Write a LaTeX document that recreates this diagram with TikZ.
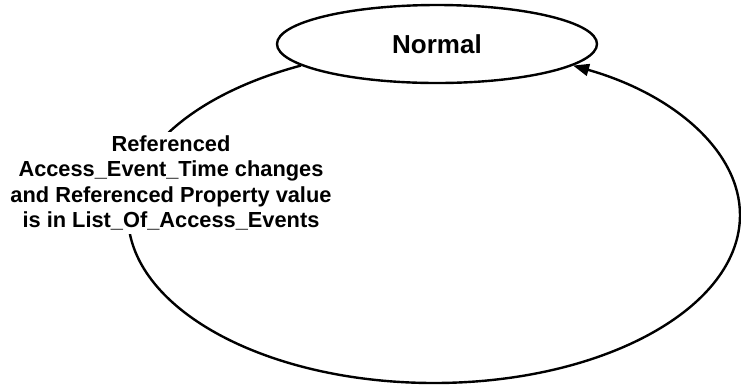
\documentclass[tikz,border=0pt]{standalone}
\usepackage{fontspec}
\setmainfont{Liberation Sans}
\usetikzlibrary{arrows.meta, shapes.geometric, backgrounds, positioning}

\begin{document}
\begin{tikzpicture}[->,>={Triangle[length=8pt,width=6pt]},x=0.5pt,y=-0.5pt,line width=1.2pt]
    \tikzstyle{stateell}=[shape=ellipse, fill=white, draw=black, text=black, minimum width=160pt, minimum height=39pt, inner sep=0pt, font=\bfseries\fontsize{13}{15}\selectfont]
    \tikzstyle{cond}=[shape=rectangle, fill=white, draw=none, text=black, align=center, inner sep=2pt, font=\bfseries\fontsize{10.9}{12.75}\selectfont]
    \tikzstyle{loopline}=[draw=black, line width=1.2pt]

    \useasboundingbox (0,0) rectangle (741,387);

    \node[stateell]  (normal) at (437,44) {Normal};
    \node[cond]      (trig) at (171,183) {Referenced\\Access\_Event\_Time changes\\and Referenced Property value\\is in List\_Of\_Access\_Events};

    \coordinate (loopleft)   at (128,215);
    \coordinate (loopbottom) at (434,383);
    \coordinate (loopright)  at (740,215);

    \begin{scope}[on background layer]
    \draw[loopline] (normal.189) .. controls +(-105,28) and +(0,-64) .. (loopleft)
                       .. controls +(0,93) and +(-169,0) .. (loopbottom)
                       .. controls +(169,0) and +(0,93) .. (loopright)
                       .. controls +(0,-63) and +(102,29) .. (normal.351);
    \end{scope}

\end{tikzpicture}
\end{document}
